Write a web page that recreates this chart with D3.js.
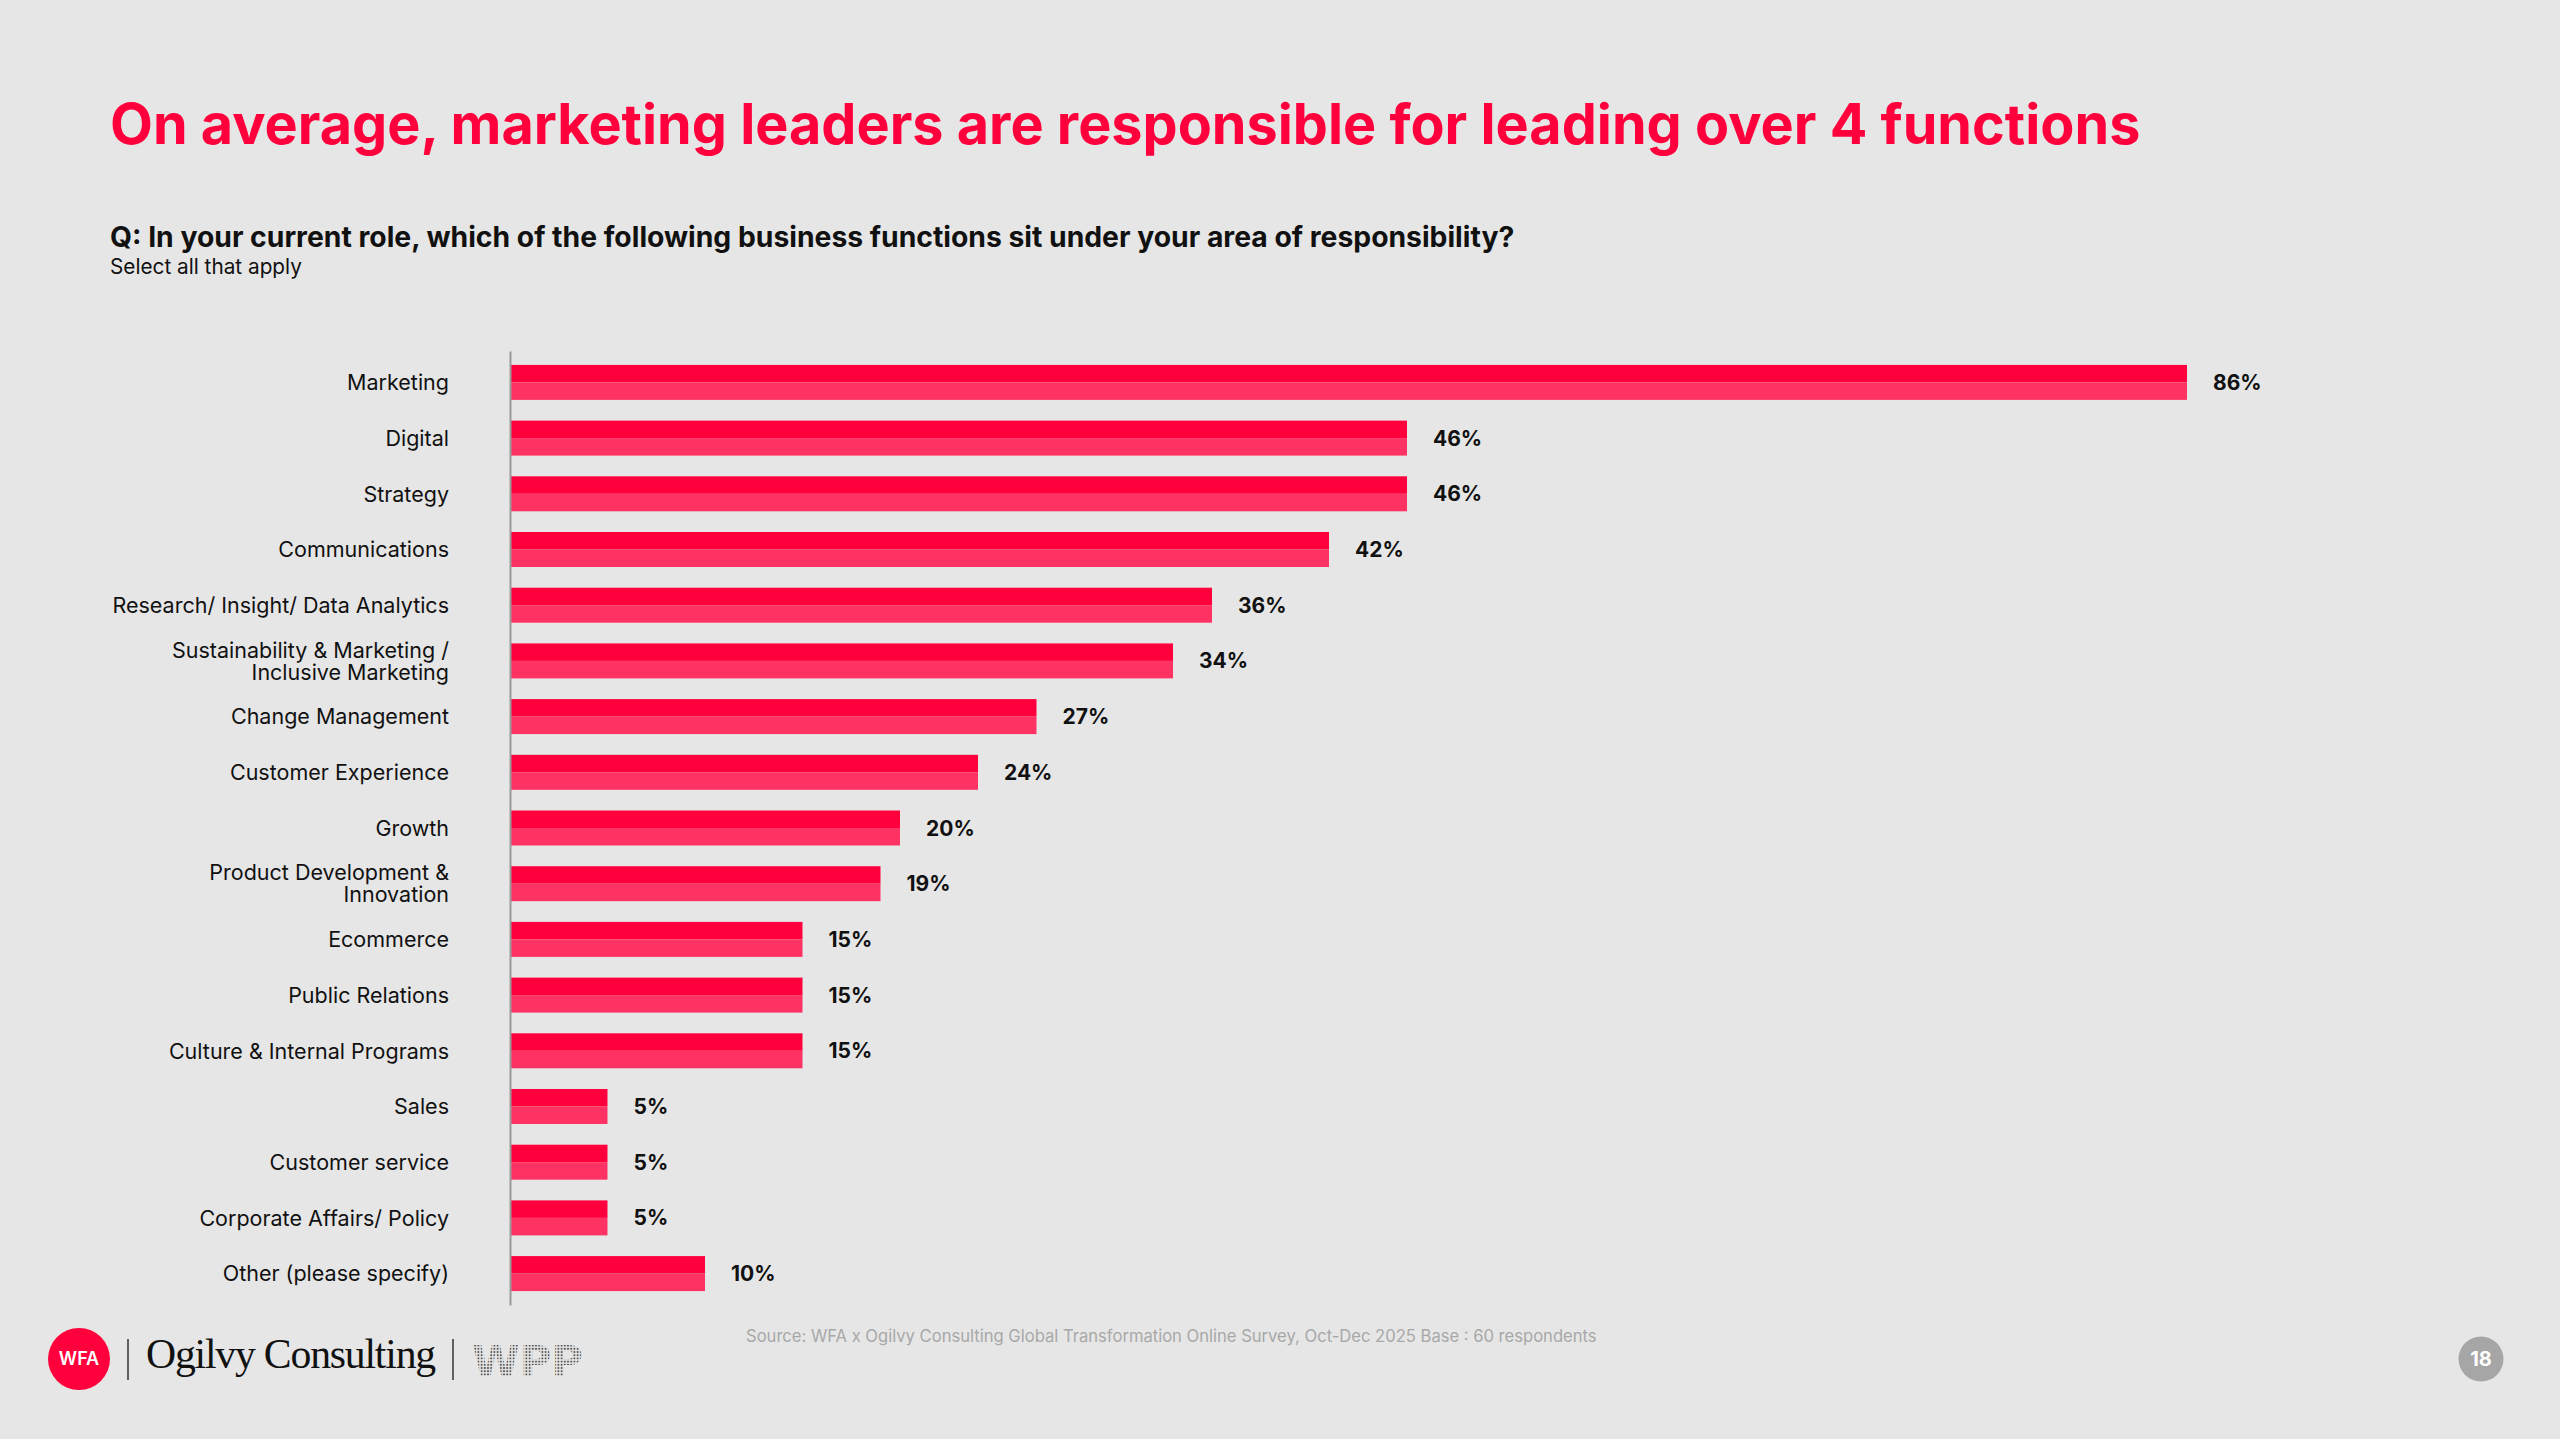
<!DOCTYPE html>
<html>
<head>
<meta charset="utf-8">
<script src="https://cdn.jsdelivr.net/npm/d3@7/dist/d3.min.js"></script>
<style>
  html, body { margin: 0; padding: 0; background: #e6e6e6; }
  svg { display: block; }
</style>
</head>
<body>
<svg id="chart" width="2560" height="1439"></svg>
<script>
// ---- data ----
const categories = [
  "Marketing",
  "Digital",
  "Strategy",
  "Communications",
  "Research/ Insight/ Data Analytics",
  "Sustainability & Marketing /\nInclusive Marketing",
  "Change Management",
  "Customer Experience",
  "Growth",
  "Product Development &\nInnovation",
  "Ecommerce",
  "Public Relations",
  "Culture & Internal Programs",
  "Sales",
  "Customer service",
  "Corporate Affairs/ Policy",
  "Other (please specify)"
];
const values = [86, 46, 46, 42, 36, 34, 27, 24, 20, 19, 15, 15, 15, 5, 5, 5, 10];
const titleText = "On average, marketing leaders are responsible for leading over 4 functions";
const subtitleText = "Q: In your current role, which of the following business functions sit under your area of responsibility?";
const noteText = "Select all that apply";
const sourceText = "Source: WFA x Ogilvy Consulting Global Transformation Online Survey, Oct-Dec 2025 Base : 60 respondents";
const pageNumber = "18";

// ---- setup ----
const svg = d3.select("#chart");
const FONT = "Inter, 'Open Sans', sans-serif";
const RED = "#ff003c";
const RED_LIGHT = "#ff3363";

svg.append("rect").attr("width", 2560).attr("height", 1439).attr("fill", "#e6e6e6");

function fitWidth(sel, target) {
  const w = sel.node().getComputedTextLength();
  const fs = parseFloat(sel.attr("font-size"));
  sel.attr("font-size", (fs * target / w).toFixed(2));
}

// Title
const title = svg.append("text")
  .attr("x", 110).attr("y", 144)
  .attr("font-family", FONT).attr("font-weight", 700)
  .attr("font-size", 52).attr("fill", RED)
  .text(titleText);
fitWidth(title, 2031);

const sub = svg.append("text")
  .attr("x", 110).attr("y", 247)
  .attr("font-family", FONT).attr("font-weight", 700)
  .attr("font-size", 25).attr("fill", "#111")
  .text(subtitleText);
fitWidth(sub, 1405);

const note = svg.append("text")
  .attr("x", 110).attr("y", 274)
  .attr("font-family", FONT).attr("font-weight", 400)
  .attr("font-size", 21).attr("fill", "#111")
  .text(noteText);
fitWidth(note, 192);

// ---- scales ----
const x = d3.scaleLinear().domain([0, 100]).range([510, 2460]);
const y = d3.scaleBand().domain(categories).range([351, 1305])
  .paddingInner(0.372).paddingOuter(0.25);

const g = svg.append("g");

const bars = g.selectAll("g.bar").data(categories).join("g").attr("class", "bar");
bars.append("rect")
  .attr("x", x(0))
  .attr("y", d => y(d))
  .attr("width", (d, i) => x(values[i]) - x(0))
  .attr("height", y.bandwidth() / 2)
  .attr("fill", RED);
bars.append("rect")
  .attr("x", x(0))
  .attr("y", d => y(d) + y.bandwidth() / 2)
  .attr("width", (d, i) => x(values[i]) - x(0))
  .attr("height", y.bandwidth() / 2)
  .attr("fill", RED_LIGHT);

// value labels
bars.append("text")
  .attr("x", (d, i) => x(values[i]) + 26)
  .attr("y", d => y(d) + y.bandwidth() / 2)
  .attr("dy", "0.36em")
  .attr("font-family", FONT).attr("font-weight", 700)
  .attr("font-size", 21).attr("fill", "#111")
  .text((d, i) => values[i] + "%");

// category labels
bars.each(function(d) {
  const lines = d.split("\n");
  const cy = y(d) + y.bandwidth() / 2;
  const lh = 22;
  const t = d3.select(this).append("text")
    .attr("text-anchor", "end")
    .attr("font-family", FONT).attr("font-weight", 400)
    .attr("font-size", 21.5).attr("fill", "#111");
  lines.forEach((ln, k) => {
    t.append("tspan")
      .attr("x", 449)
      .attr("y", cy + (k - (lines.length - 1) / 2) * lh)
      .attr("dy", "0.36em")
      .text(ln);
  });
});

// axis line
const yAxis = d3.axisLeft(y).tickSize(0).tickFormat("");
const ax = svg.append("g").attr("transform", `translate(${x(0)},0)`).call(yAxis);
ax.select(".domain").attr("stroke", "#9a9a9a").attr("stroke-width", 2);

// ---- footer ----
svg.append("circle").attr("cx", 79).attr("cy", 1359).attr("r", 31).attr("fill", RED);
svg.append("text").attr("x", 79).attr("y", 1359).attr("dy", "0.36em")
  .attr("text-anchor", "middle").attr("font-family", FONT).attr("font-weight", 600)
  .attr("font-size", 18).attr("fill", "#fff").text("WFA");

[128, 453].forEach(xx => {
  svg.append("line").attr("x1", xx).attr("x2", xx).attr("y1", 1339).attr("y2", 1380)
    .attr("stroke", "#333").attr("stroke-width", 1.5);
});

const ogilvy = svg.append("text").attr("x", 146).attr("y", 1368)
  .attr("font-family", "'Liberation Serif', 'DejaVu Serif', serif")
  .attr("font-size", 38).attr("fill", "#111").attr("letter-spacing", -1.2)
  .text("Ogilvy Consulting");
fitWidth(ogilvy, 287);

const defs = svg.append("defs");
const pat = defs.append("pattern").attr("id", "dots").attr("patternUnits", "userSpaceOnUse")
  .attr("width", 3.2).attr("height", 3.2);
pat.append("circle").attr("cx", 1.6).attr("cy", 1.6).attr("r", 1.05).attr("fill", "#555");

const wpp = svg.append("text").attr("x", 472).attr("y", 1376)
  .attr("font-family", "'DejaVu Sans', sans-serif").attr("font-weight", 700)
  .attr("font-size", 46).attr("fill", "url(#dots)")
  .text("WPP");
fitWidth(wpp, 111);

const src = svg.append("text").attr("x", 746).attr("y", 1342)
  .attr("font-family", FONT).attr("font-weight", 400)
  .attr("font-size", 17).attr("fill", "#a8a8a8")
  .text(sourceText);
fitWidth(src, 851);

svg.append("circle").attr("cx", 2481).attr("cy", 1359).attr("r", 22.5).attr("fill", "#a6a6a6");
svg.append("text").attr("x", 2481).attr("y", 1359).attr("dy", "0.36em")
  .attr("text-anchor", "middle").attr("font-family", FONT).attr("font-weight", 700)
  .attr("font-size", 20).attr("fill", "#fff").text(pageNumber);
</script>
</body>
</html>
